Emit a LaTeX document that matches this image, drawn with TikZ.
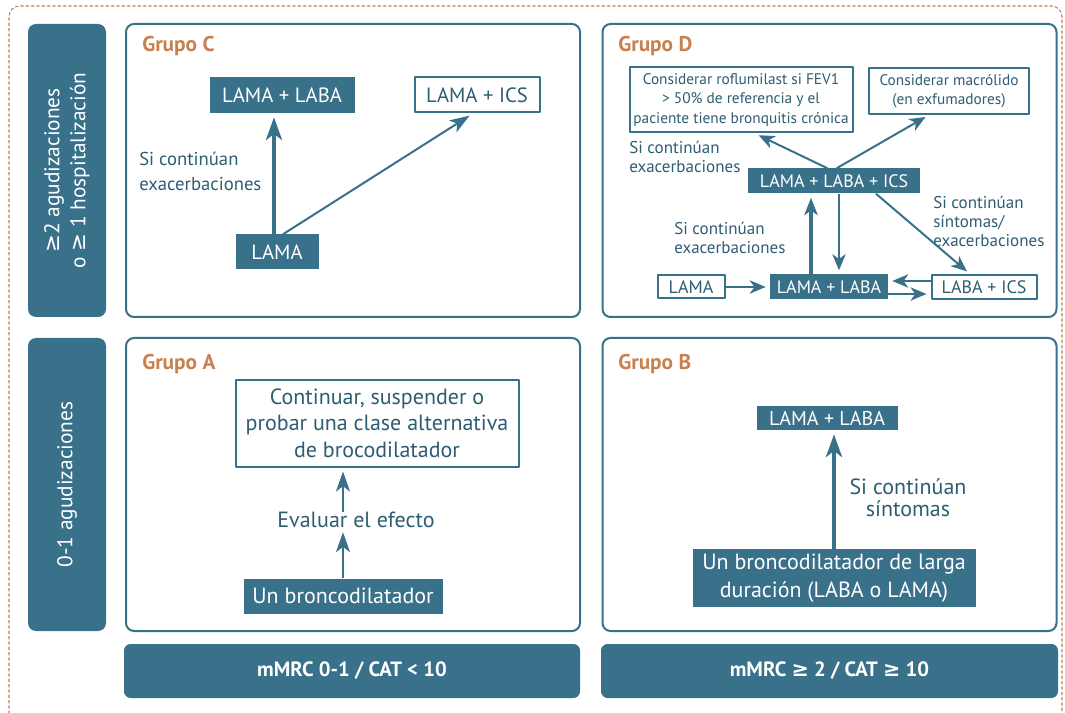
\documentclass[tikz,border=0pt]{standalone}
\usepackage{fontspec}
\setmainfont{PT Sans}
\newfontfamily\symfont{DejaVu Sans}
\usetikzlibrary{arrows.meta}
\definecolor{copdteal}{HTML}{39718B}
\definecolor{copdtext}{HTML}{2E5D72}
\definecolor{copdorange}{HTML}{C8804F}
\newcommand{\geqs}{{\symfont ≥}}
\newcommand{\fs}[2]{\fontsize{#1}{#2}\selectfont}
\begin{document}
\begin{tikzpicture}[x=0.75pt,y=-0.75pt,line join=round,
  panel/.style={draw=copdteal,line width=1.5pt,rounded corners=6pt,minimum width=340.5pt,minimum height=219.75pt},
  sidebar/.style={fill=copdteal,rounded corners=6pt,rotate=90,minimum width=219.75pt,minimum height=58.5pt,
    text=white,align=center,font=\fs{16}{19.5}},
  footbar/.style={fill=copdteal,rounded corners=5pt,minimum width=342pt,minimum height=40.5pt,
    text=white,font=\fs{15.5}{18}\bfseries},
  grouplabel/.style={text=copdorange,font=\fs{16}{18}\bfseries,anchor=west,inner sep=0pt},
  darkbox/.style={fill=copdteal,text=white,inner sep=0pt,align=center},
  lightbox/.style={draw=copdteal,line width=1.5pt,fill=white,text=copdtext,inner sep=0pt,align=center},
  note/.style={text=copdtext,inner sep=0pt},
  arr/.style={draw=copdteal,line width=1.5pt,-{Stealth[length=15pt,width=10.5pt,inset=4pt]},shorten >=3pt},
  smallarr/.style={arr,-{Stealth[length=12pt,width=10pt,inset=3.5pt]}},
  thickarr/.style={arr,line width=3pt,-{Stealth[length=17pt,width=12pt,inset=4.5pt]}}]
  \useasboundingbox (0,0) rectangle (1065,713);
  \draw[copdorange,line width=0.8pt,dash pattern=on 2.5pt off 1.5pt,rounded corners=8pt]
    (9,730) -- (9,6) -- (1062,6) -- (1062,730);

  % left bars and bottom bars
  \node[sidebar] (sTop) at (67,170.5) {\geqs2 agudizaciones\\o \geqs{} 1 hospitalización};
  \node[sidebar] (sBot) at (67,484.5) {0-1 agudizaciones};
  \node[footbar] (fL) at (352,671) {mMRC 0-1 / CAT < 10};
  \node[footbar,minimum width=342.75pt] (fR) at (829.5,671) {mMRC \geqs{} 2 / CAT \geqs{} 10};

  % panels
  \node[panel] (pC) at (353,170.5) {};
  \node[panel] (pD) at (829.5,170.5) {};
  \node[panel] (pA) at (353,484.5) {};
  \node[panel] (pB) at (829.5,484.5) {};
  \node[grouplabel] (gC) at (142,46) {Grupo C};
  \node[grouplabel] (gD) at (618,46) {Grupo D};
  \node[grouplabel] (gA) at (142,364) {Grupo A};
  \node[grouplabel] (gB) at (618,364) {Grupo B};

  % Grupo C
  \node[darkbox,minimum width=108.75pt,minimum height=27pt,font=\fs{15.5}{18}] (cLL) at (282,95) {LAMA + LABA};
  \node[lightbox,minimum width=93.75pt,minimum height=26.25pt,font=\fs{15.5}{18}] (cLI) at (477,95) {LAMA + ICS};
  \node[darkbox,minimum width=62.25pt,minimum height=26.25pt,font=\fs{15.5}{18}] (cL) at (277,252) {LAMA};
  \node[note,anchor=west,align=left,font=\fs{14}{18.75}] (cTxt) at (139,171) {Si continúan\\exacerbaciones};
  \draw[thickarr] ([xshift=-2.25pt]cL.north) -- ([xshift=-2.25pt]cL.north |- cLL.south);
  \draw[arr] ([xshift=4.5pt]cL.north) -- ([xshift=-3pt]cLI.south);

  % Grupo D
  \node[lightbox,minimum width=167.25pt,minimum height=48.75pt,font=\fs{11.5}{14.5}] (dRof) at (741,100)
    {Considerar roflumilast si FEV1\\> 50\% de referencia y el\\paciente tiene bronquitis crónica};
  \node[lightbox,minimum width=120pt,minimum height=34.5pt,font=\fs{11.5}{14.5}] (dMac) at (949,91)
    {Considerar macrólido\\(en exfumadores)};
  \node[darkbox,minimum width=129pt,minimum height=18.75pt,font=\fs{13.5}{16}] (dTri) at (834,181) {LAMA + LABA + ICS};
  \node[lightbox,minimum width=50.25pt,minimum height=17.25pt,font=\fs{13.5}{16}] (dL) at (691,287) {LAMA};
  \node[darkbox,minimum width=88.5pt,minimum height=18.75pt,font=\fs{13.5}{16}] (dLL) at (829,287) {LAMA + LABA};
  \node[lightbox,minimum width=78.75pt,minimum height=18pt,font=\fs{13.5}{16}] (dLI) at (984,287) {LABA + ICS};
  \node[note,anchor=west,align=left,font=\fs{12.75}{14.25}] (dTxtA) at (629,157) {Si continúan\\exacerbaciones};
  \node[note,anchor=west,align=left,font=\fs{12.75}{14.25}] (dTxtB) at (674,238) {Si continúan\\exacerbaciones};
  \node[note,anchor=west,align=left,font=\fs{12.75}{14.25}] (dTxtC) at (933,221) {Si continúan\\síntomas/\\exacerbaciones};
  \draw[smallarr] ([xshift=-5pt]dTri.north) -- ([xshift=10.5pt]dRof.south);
  \draw[smallarr] ([xshift=2pt]dTri.north) -- ([xshift=-15pt]dMac.south);
  \draw[smallarr] (dL) -- (dLL);
  \draw[thickarr,-{Stealth[length=13pt,width=10pt,inset=3.5pt]}] ([xshift=-13.5pt]dLL.north) -- ([xshift=-13.5pt]dLL.north |- dTri.south);
  \draw[smallarr] ([xshift=3.75pt]dTri.south) -- ([xshift=3.75pt]dTri.south |- dLL.north);
  \draw[smallarr] ([xshift=31.5pt]dTri.south) -- ([xshift=-10.5pt]dLI.north);
  \draw[smallarr] ([yshift=4.5pt]dLI.west) -- ([yshift=4.5pt]dLL.east);
  \draw[smallarr] ([yshift=-5.25pt]dLL.east) -- ([yshift=-5.25pt]dLI.west);

  % Grupo A
  \node[lightbox,minimum width=212.25pt,minimum height=65.25pt,font=\fs{16.5}{20}] (aBox) at (377,423)
    {Continuar, suspender o\\probar una clase alternativa\\de brocodilatador};
  \node[note,font=\fs{16.5}{20}] (aEval) at (356,520) {Evaluar el efecto};
  \node[darkbox,minimum width=149.25pt,minimum height=26.25pt,font=\fs{16.5}{20}] (aUn) at (343,596) {Un broncodilatador};
  \draw[arr] (aUn.north) -- (aUn.north |- aEval.south);
  \draw[arr] (aUn.north |- aEval.north) -- (aUn.north |- aBox.south);

  % Grupo B
  \node[darkbox,minimum width=105.75pt,minimum height=18pt,font=\fs{15}{18}] (bLL) at (827,418) {LAMA + LABA};
  \node[darkbox,minimum width=212.25pt,minimum height=43.5pt,font=\fs{16.5}{21}] (bUn) at (834,578)
    {Un broncodilatador de larga\\duración (LABA o LAMA)};
  \node[note,align=center,font=\fs{16.5}{16.5}] (bTxt) at (908,498) {Si continúan\\síntomas};
  \draw[thickarr] (bUn.north) -- (bUn.north |- bLL.south);
\end{tikzpicture}
\end{document}
